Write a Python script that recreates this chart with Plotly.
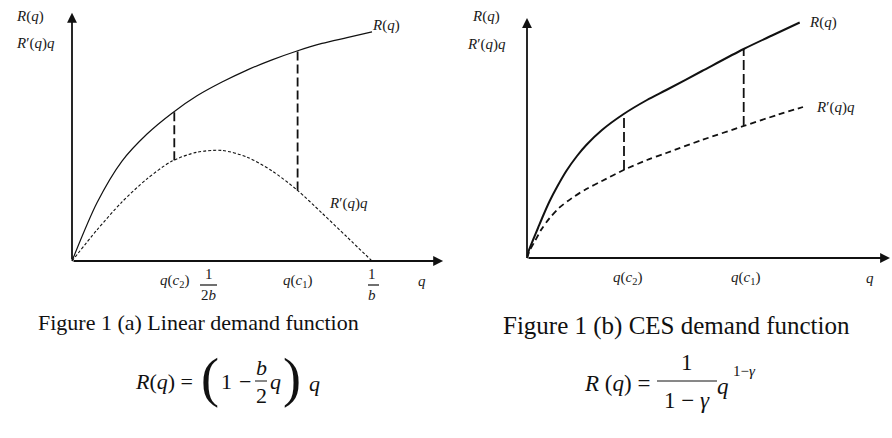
import plotly.graph_objects as go

W, H = 892, 438

# ---------------- data (panel a: linear demand) ----------------
qa_R = [0.0, 0.0833, 0.1667, 0.25, 0.3333, 0.4167, 0.5, 0.5833, 0.6667, 0.75, 0.8333, 0.9167, 1.0]
Ra = [0.0, 0.131, 0.225, 0.286, 0.333, 0.372, 0.403, 0.430, 0.453, 0.473, 0.490, 0.503, 0.516]
qa_M = [0.0, 0.0833, 0.1667, 0.25, 0.3333, 0.4167, 0.5, 0.5833, 0.6667, 0.75, 0.8333, 0.9167, 1.0]
Ma = [0.0, 0.070, 0.133, 0.185, 0.225, 0.245, 0.249, 0.234, 0.203, 0.160, 0.108, 0.054, 0.0]
qa_c = [0.341, 0.752]            # q(c2), q(c1)
qa_c_low = [0.227, 0.159]
qa_c_high = [0.337, 0.473]
qa_ticks = [0.341, 0.455, 0.752, 1.0, 1.167]
qa_ticklabels = ["<i>q</i>(<i>c</i><sub>2</sub>)", "FRAC2B", "<i>q</i>(<i>c</i><sub>1</sub>)", "FRACB", "<i>q</i>"]
axa_max = [1.237, 0.559]

# ---------------- data (panel b: CES demand) ----------------
qb_R = [0.0, 0.02, 0.06, 0.11, 0.16, 0.227, 0.30, 0.393, 0.50, 0.593, 0.75, 0.967, 1.20, 1.393, 1.75, 2.167, 2.45, 2.727]
Rb = [0.0, 0.08, 0.18, 0.30, 0.42, 0.57, 0.71, 0.87, 1.02, 1.13, 1.28, 1.44, 1.58, 1.68, 1.87, 2.09, 2.225, 2.355]
qb_M = [0.0, 0.03, 0.08, 0.14, 0.227, 0.32, 0.45, 0.593, 0.75, 0.967, 1.20, 1.393, 1.75, 2.167, 2.50, 2.76]
Mb = [0.0, 0.08, 0.17, 0.28, 0.40, 0.50, 0.60, 0.69, 0.77, 0.88, 0.98, 1.05, 1.18, 1.32, 1.43, 1.51]
qb_c = [0.97, 2.167]
qb_c_low = [0.88, 1.32]
qb_c_high = [1.44, 2.09]
qb_ticks = [1.0, 2.18, 3.43]
qb_ticklabels = ["<i>q</i>(<i>c</i><sub>2</sub>)", "<i>q</i>(<i>c</i><sub>1</sub>)", "<i>q</i>"]
axb_max = [3.63, 2.4]

SERIF = "Liberation Serif, Times New Roman, serif"
LBL = dict(family=SERIF, size=15, color="#1a1a1a")

fig = go.Figure()

# panel a traces
fig.add_trace(go.Scatter(x=qa_R, y=Ra, mode="lines", line=dict(color="#111", width=1.2, shape="spline", smoothing=0.8),
                         xaxis="x", yaxis="y", showlegend=False, hoverinfo="skip"))
fig.add_trace(go.Scatter(x=qa_M, y=Ma, mode="lines", line=dict(color="#111", width=1.1, dash="3px,2px", shape="spline", smoothing=0.8),
                         xaxis="x", yaxis="y", showlegend=False, hoverinfo="skip"))
for q, lo, hi in zip(qa_c, qa_c_low, qa_c_high):
    fig.add_trace(go.Scatter(x=[q, q], y=[lo, hi], mode="lines", line=dict(color="#111", width=1.8, dash="9px,4px"),
                             xaxis="x", yaxis="y", showlegend=False, hoverinfo="skip"))

# panel b traces
fig.add_trace(go.Scatter(x=qb_R, y=Rb, mode="lines", line=dict(color="#111", width=2, shape="spline", smoothing=0.8),
                         xaxis="x2", yaxis="y2", showlegend=False, hoverinfo="skip"))
fig.add_trace(go.Scatter(x=qb_M, y=Mb, mode="lines", line=dict(color="#111", width=1.8, dash="6px,4px", shape="spline", smoothing=0.8),
                         xaxis="x2", yaxis="y2", showlegend=False, hoverinfo="skip"))
for q, lo, hi in zip(qb_c, qb_c_low, qb_c_high):
    fig.add_trace(go.Scatter(x=[q, q], y=[lo, hi], mode="lines", line=dict(color="#111", width=1.8, dash="10px,4px"),
                             xaxis="x2", yaxis="y2", showlegend=False, hoverinfo="skip"))

ann = []
shapes = []

def px(x):
    return x / W

def py(y):
    return 1 - y / H

def text(x, y, t, font=LBL, xanchor="center"):
    ann.append(dict(x=px(x), y=py(y), xref="paper", yref="paper", text=t, showarrow=False,
                    font=font, xanchor=xanchor, yanchor="middle"))

def hbar(x0, x1, y, w=1):
    shapes.append(dict(type="line", xref="paper", yref="paper", x0=px(x0), x1=px(x1), y0=py(y), y1=py(y),
                       line=dict(color="#111", width=w)))

# axes arrows
for xr, yr, mx in (("x", "y", axa_max), ("x2", "y2", axb_max)):
    ann.append(dict(x=mx[0], y=0, ax=0, ay=0, xref=xr, yref=yr, axref=xr, ayref=yr, text="",
                    showarrow=True, arrowhead=2, arrowsize=1.1, arrowwidth=1.8, arrowcolor="#111", standoff=0))
    ann.append(dict(x=0, y=mx[1], ax=0, ay=0, xref=xr, yref=yr, axref=xr, ayref=yr, text="",
                    showarrow=True, arrowhead=2, arrowsize=1.1, arrowwidth=1.8, arrowcolor="#111", standoff=0))

# tick labels panel a
for q, t in zip(qa_ticks, qa_ticklabels):
    if t in ("FRAC2B", "FRACB"):
        den = "2<i>b</i>" if t == "FRAC2B" else "<i>b</i>"
        ann.append(dict(x=q, y=py(274), xref="x", yref="paper", text="1", showarrow=False, font=LBL, yanchor="middle"))
        ann.append(dict(x=q, y=py(295), xref="x", yref="paper", text=den, showarrow=False, font=LBL, yanchor="middle"))
    else:
        ann.append(dict(x=q, y=py(281), xref="x", yref="paper", text=t, showarrow=False, font=LBL, yanchor="middle"))
hbar(200, 217, 285, 1.2)
hbar(368, 379, 285, 1.2)

for q, t in zip(qb_ticks, qb_ticklabels):
    ann.append(dict(x=q, y=py(278), xref="x2", yref="paper", text=t, showarrow=False, font=LBL, yanchor="middle"))

# axis / curve labels
text(30, 16, "<i>R</i>(<i>q</i>)")
text(35, 43, "<i>R</i>′(<i>q</i>)<i>q</i>")
text(386, 26, "<i>R</i>(<i>q</i>)")
text(348, 203, "<i>R</i>′(<i>q</i>)<i>q</i>")
text(486, 17, "<i>R</i>(<i>q</i>)")
text(487, 45, "<i>R</i>′(<i>q</i>)<i>q</i>")
text(823, 22, "<i>R</i>(<i>q</i>)")
text(835, 107, "<i>R</i>′(<i>q</i>)<i>q</i>")

# captions
text(198, 322, "Figure 1 (a) Linear demand function", dict(family=SERIF, size=22, color="#111"))
text(676, 326, "Figure 1 (b) CES demand function", dict(family=SERIF, size=25, color="#111"))

# formula (a)
F = dict(family=SERIF, size=22, color="#111")
BIG = dict(family=SERIF, size=54, color="#111")
text(133, 381, "<i>R</i>(<i>q</i>) =", F, "left")
text(210, 378, "(", BIG)
text(226, 381, "1", F)
text(245, 381, "−", F)
text(261, 367, "<i>b</i>", F)
hbar(255, 267, 381, 1)
text(261, 395, "2", F)
text(275, 381, "<i>q</i>", F)
text(292, 378, ")", BIG)
text(314, 383, "<i>q</i>", F)

# formula (b)
F2 = dict(family=SERIF, size=23, color="#111")
text(582, 383, "<i>R</i> (<i>q</i>) =", F2, "left")
text(687, 362, "1", F2)
hbar(657, 717, 381, 1)
text(687, 400, "1 − <i>γ</i>", F2)
text(723, 386, "<i>q</i>", F2)
text(731, 371, "1−<i>γ</i>", dict(family=SERIF, size=15, color="#111"), "left")

ax_common = dict(showgrid=False, zeroline=False, showticklabels=False, ticks="", showline=False, fixedrange=True)

fig.update_layout(
    width=W, height=H, margin=dict(l=0, r=0, t=0, b=0),
    paper_bgcolor="white", plot_bgcolor="rgba(0,0,0,0)",
    xaxis=dict(domain=[62 / W, 453 / W], range=[-10 / 300, 381 / 300], **ax_common),
    yaxis=dict(domain=[1 - 271 / H, 1 - 5 / H], range=[-10 / 444, 256 / 444], **ax_common),
    xaxis2=dict(domain=[517 / W, 1.0], range=[-0.1, 3.65], **ax_common),
    yaxis2=dict(domain=[1 - 268 / H, 1 - 8 / H], range=[-0.1, 2.5], **ax_common),
    annotations=ann, shapes=shapes,
)

fig.write_html("out.html")
